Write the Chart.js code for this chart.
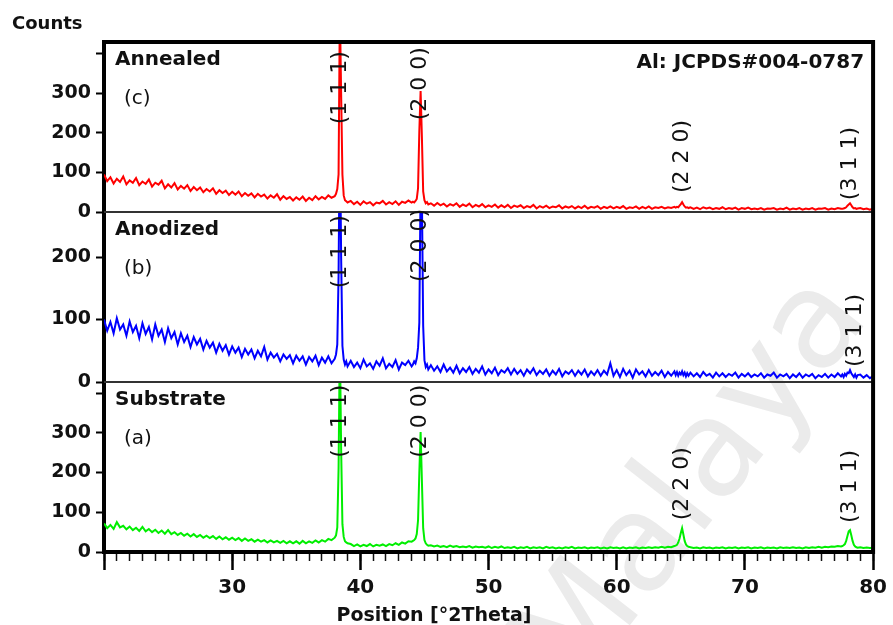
<!DOCTYPE html>
<html>
<head>
<meta charset="utf-8">
<script src="https://cdn.jsdelivr.net/npm/chart.js@4.4.1/dist/chart.umd.min.js"></script>
<style>
  html, body { margin: 0; padding: 0; background: #fff; }
  #xrd { display: block; }
</style>
</head>
<body>
<canvas id="xrd" width="893" height="625"></canvas>
<script>
// 2theta positions (deg), finer steps around the Al reflections
const twoTheta = [
  20, 20.25, 20.5, 20.75, 21, 21.25, 21.5, 21.75, 22, 22.25, 22.5, 22.75, 23, 23.25, 23.5, 23.75, 24, 24.25, 24.5, 24.75,
  25, 25.25, 25.5, 25.75, 26, 26.25, 26.5, 26.75, 27, 27.25, 27.5, 27.75, 28, 28.25, 28.5, 28.75, 29, 29.25, 29.5, 29.75,
  30, 30.25, 30.5, 30.75, 31, 31.25, 31.5, 31.75, 32, 32.25, 32.5, 32.75, 33, 33.25, 33.5, 33.75, 34, 34.25, 34.5, 34.75,
  35, 35.25, 35.5, 35.75, 36, 36.25, 36.5, 36.75, 37, 37.25, 37.5, 37.75,
  38, 38.1, 38.2, 38.3, 38.4, 38.5, 38.6, 38.7, 38.8, 38.9, 39,
  39.25, 39.5, 39.75, 40, 40.25, 40.5, 40.75, 41, 41.25, 41.5, 41.75, 42, 42.25, 42.5, 42.75, 43, 43.25, 43.5, 43.75, 44,
  44.1, 44.2, 44.3, 44.4, 44.5, 44.6, 44.7, 44.8, 44.9, 45, 45.1, 45.2, 45.3,
  45.5, 45.75, 46, 46.25, 46.5, 46.75, 47, 47.25, 47.5, 47.75, 48, 48.25, 48.5, 48.75, 49, 49.25, 49.5, 49.75,
  50, 50.25, 50.5, 50.75, 51, 51.25, 51.5, 51.75, 52, 52.25, 52.5, 52.75, 53, 53.25, 53.5, 53.75, 54, 54.25, 54.5, 54.75,
  55, 55.25, 55.5, 55.75, 56, 56.25, 56.5, 56.75, 57, 57.25, 57.5, 57.75, 58, 58.25, 58.5, 58.75, 59, 59.25, 59.5, 59.75,
  60, 60.25, 60.5, 60.75, 61, 61.25, 61.5, 61.75, 62, 62.25, 62.5, 62.75, 63, 63.25, 63.5, 63.75, 64, 64.25, 64.5,
  64.6, 64.7, 64.8, 64.9, 65, 65.1, 65.2, 65.3, 65.4, 65.5, 65.6,
  65.75, 66, 66.25, 66.5, 66.75, 67, 67.25, 67.5, 67.75, 68, 68.25, 68.5, 68.75, 69, 69.25, 69.5, 69.75,
  70, 70.25, 70.5, 70.75, 71, 71.25, 71.5, 71.75, 72, 72.25, 72.5, 72.75, 73, 73.25, 73.5, 73.75, 74, 74.25, 74.5, 74.75,
  75, 75.25, 75.5, 75.75, 76, 76.25, 76.5, 76.75, 77, 77.25, 77.5,
  77.6, 77.7, 77.8, 77.9, 78, 78.1, 78.2, 78.3, 78.4, 78.5, 78.6, 78.7, 78.8,
  79, 79.25, 79.5, 79.75, 80
];

// (c) Annealed
const annealed = [
  95, 78, 88, 72, 84, 76, 90, 70, 80, 74, 86, 68, 77, 71, 82, 64, 74, 69, 79, 60,
  70, 62, 73, 57, 66, 59, 68, 53, 63, 55, 62, 50, 58, 52, 60, 46, 55, 48, 54, 43,
  51, 44, 52, 40, 48, 41, 47, 37, 46, 39, 44, 34, 42, 36, 45, 31, 40, 33, 38, 29,
  37, 31, 39, 28, 36, 30, 40, 32, 38, 33, 42, 36,
  40, 46, 58, 95, 520, 300, 95, 42, 30, 27, 24,
  28, 20, 26, 18, 27, 21, 25, 17, 24, 22, 28, 19, 25, 20, 27, 18, 26, 23, 29, 24,
  26, 24, 28, 33, 60, 205, 306, 190, 52, 30, 22, 25, 19,
  22, 16, 23, 17, 21, 14, 20, 16, 22, 13, 19, 15, 21, 12, 18, 14, 20, 12,
  17, 13, 19, 11, 17, 12, 18, 10, 16, 13, 17, 10, 15, 12, 18, 9, 15, 11, 16, 10,
  14, 12, 17, 9, 14, 11, 15, 9, 14, 10, 16, 9, 13, 11, 15, 8, 13, 10, 14, 9,
  13, 10, 15, 8, 12, 10, 14, 8, 13, 9, 14, 8, 12, 10, 13, 9, 12, 10, 13,
  11, 13, 12, 16, 20, 25, 19, 14, 11, 12, 10,
  12, 8, 11, 7, 12, 9, 11, 7, 10, 8, 12, 7, 10, 8, 11, 6, 10,
  8, 11, 7, 9, 7, 10, 6, 9, 8, 10, 6, 9, 7, 11, 6, 9, 7, 10, 6, 9,
  7, 10, 6, 9, 8, 10, 6, 9, 7, 10, 8,
  8, 9, 10, 12, 16, 19, 22, 17, 12, 9, 10, 8, 9,
  10, 7, 9, 6, 9
];

// (b) Anodized
const anodized = [
  100, 82, 96, 78, 102, 84, 92, 74, 97, 80, 90, 70, 94, 77, 88, 68, 92, 74, 84, 64,
  86, 70, 80, 60, 78, 64, 74, 56, 72, 60, 69, 52, 66, 55, 63, 47, 61, 50, 59, 44,
  57, 47, 55, 40, 53, 44, 52, 38, 50, 41, 56, 36, 47, 39, 45, 33, 44, 37, 43, 30,
  42, 34, 41, 28, 40, 33, 42, 27, 39, 31, 41, 30,
  37, 44, 60, 170, 420, 200, 58, 36, 28, 33, 25,
  34, 24, 31, 22, 36, 25, 30, 21, 33, 26, 38, 22, 29, 24, 35, 20, 31, 27, 34, 25,
  28, 33, 30, 38, 55, 95, 320, 300, 90, 35, 24, 28, 20,
  27, 18, 25, 16, 28, 17, 23, 15, 26, 14, 22, 16, 24, 13, 21, 15, 25, 12,
  20, 14, 23, 11, 19, 15, 22, 12, 21, 13, 19, 10, 20, 14, 22, 11, 18, 13, 20, 10,
  18, 12, 21, 9, 17, 13, 19, 10, 18, 12, 20, 9, 17, 11, 19, 10, 18, 12, 30, 10,
  19, 8, 21, 11, 18, 7, 20, 12, 17, 9, 19, 10, 16, 11, 18, 8, 16, 10, 17,
  11, 16, 10, 15, 12, 17, 11, 15, 9, 14, 10,
  15, 9, 14, 8, 16, 10, 13, 7, 15, 9, 14, 8, 13, 10, 15, 7, 13,
  9, 14, 8, 12, 9, 14, 7, 12, 10, 15, 7, 12, 9, 13, 6, 12, 8, 14, 7, 12,
  9, 13, 6, 11, 8, 13, 7, 12, 8, 14, 9,
  12, 8, 13, 10, 15, 14, 19, 14, 11, 8, 12, 7, 11,
  12, 7, 11, 6, 10
];

// (a) Substrate
const substrate = [
  72, 60, 68, 58, 75, 62, 66, 57, 64, 55, 61, 53, 63, 52, 58, 50, 56, 48, 54, 46,
  55, 45, 50, 43, 48, 41, 46, 39, 45, 38, 43, 36, 41, 35, 40, 33, 39, 32, 37, 31,
  36, 30, 35, 28, 34, 28, 32, 26, 31, 26, 30, 24, 29, 24, 28, 23, 28, 22, 27, 22,
  27, 21, 28, 22, 27, 23, 29, 24, 30, 26, 33, 30,
  36, 42, 62, 210, 540, 260, 70, 38, 27, 24, 22,
  20, 15, 19, 14, 18, 15, 20, 14, 18, 16, 19, 15, 20, 17, 22, 18, 24, 21, 27, 26,
  28, 30, 34, 45, 80, 200, 302, 180, 60, 30, 22, 18, 16,
  17, 14, 16, 13, 15, 12, 16, 13, 15, 12, 14, 12, 15, 11, 14, 12, 13, 11,
  14, 10, 13, 11, 14, 10, 12, 10, 13, 9, 12, 10, 13, 9, 12, 10, 12, 9, 13, 10,
  12, 9, 11, 9, 12, 10, 13, 9, 11, 10, 12, 9, 11, 10, 12, 9, 11, 9, 12, 10,
  11, 9, 12, 9, 11, 10, 12, 9, 11, 10, 12, 10, 12, 11, 13, 11, 13, 12, 15,
  16, 18, 24, 34, 48, 60, 44, 28, 19, 15, 13,
  12, 10, 11, 9, 12, 10, 11, 9, 11, 10, 12, 9, 11, 10, 12, 9, 11,
  10, 12, 9, 11, 10, 12, 9, 11, 10, 11, 9, 12, 10, 11, 10, 12, 10, 11, 9, 12,
  10, 12, 11, 13, 11, 13, 12, 14, 13, 15, 14,
  15, 17, 20, 28, 40, 52, 55, 42, 28, 18, 14, 12, 11,
  12, 10, 11, 10, 11
];

// Miller index labels: panel axis, 2theta, count where the label starts
const millerLabels = [
  { axis: 'yC', x: 38.4, at: 222, text: '(1 1 1)' },
  { axis: 'yC', x: 44.7, at: 232, text: '(2 0 0)' },
  { axis: 'yC', x: 65.1, at: 48, text: '(2 2 0)' },
  { axis: 'yC', x: 78.2, at: 30, text: '(3 1 1)' },
  { axis: 'yB', x: 38.4, at: 150, text: '(1 1 1)' },
  { axis: 'yB', x: 44.7, at: 160, text: '(2 0 0)' },
  { axis: 'yB', x: 78.6, at: 24, text: '(3 1 1)' },
  { axis: 'yA', x: 38.4, at: 237, text: '(1 1 1)' },
  { axis: 'yA', x: 44.7, at: 237, text: '(2 0 0)' },
  { axis: 'yA', x: 65.1, at: 80, text: '(2 2 0)' },
  { axis: 'yA', x: 78.2, at: 73, text: '(3 1 1)' }
];

const panelNames = { yA: 'Substrate', yB: 'Anodized', yC: 'Annealed' };
const panelTags = { yA: '(a)', yB: '(b)', yC: '(c)' };

const FONT = '"DejaVu Sans", sans-serif';

function toPoints(vals) {
  return twoTheta.map((t, i) => ({ x: t, y: vals[i] }));
}

function panelAxis(max) {
  return {
    type: 'linear',
    position: 'left',
    stack: 'xrd',
    stackWeight: 1,
    offset: false,
    min: 0,
    max: max,
    afterFit: (s) => { s.width = 104; },
    border: { display: true, color: '#000', width: 4 },
    grid: { display: true, drawOnChartArea: false, tickLength: 8, tickWidth: 2, tickColor: '#000' },
    ticks: {
      stepSize: 100,
      includeBounds: false,
      autoSkip: false,
      padding: 5,
      color: '#111',
      font: { family: FONT, weight: 'bold', size: 19 },
      callback: (v) => (v <= 300 ? v : '')
    }
  };
}

const decor = {
  id: 'decor',
  beforeDraw(chart) {
    const ctx = chart.ctx;
    ctx.save();
    ctx.translate(695, 485);
    ctx.rotate(-52 * Math.PI / 180);
    ctx.font = '135px ' + FONT;
    ctx.fillStyle = '#ebebeb';
    ctx.textAlign = 'center';
    ctx.textBaseline = 'middle';
    ctx.fillText('Malaya', 0, 0);
    ctx.restore();
  },
  afterDatasetsDraw(chart) {
    const { ctx, chartArea: a, scales } = chart;
    ctx.save();

    // panel separators
    ctx.strokeStyle = '#333';
    ctx.lineWidth = 2;
    [scales.yB, scales.yA].forEach((s) => {
      ctx.beginPath();
      ctx.moveTo(a.left, s.top);
      ctx.lineTo(a.right, s.top);
      ctx.stroke();
    });

    // top and right frame
    ctx.strokeStyle = '#000';
    ctx.lineWidth = 4;
    ctx.beginPath();
    ctx.moveTo(a.left - 2, a.top);
    ctx.lineTo(a.right, a.top);
    ctx.lineTo(a.right, a.bottom + 2);
    ctx.stroke();

    // Miller indices
    ctx.fillStyle = '#111';
    ctx.font = '22px ' + FONT;
    ctx.textAlign = 'left';
    ctx.textBaseline = 'middle';
    millerLabels.forEach((m) => {
      const px = scales.x.getPixelForValue(m.x);
      const py = scales[m.axis].getPixelForValue(m.at);
      ctx.save();
      ctx.translate(px, py);
      ctx.rotate(-Math.PI / 2);
      ctx.fillText(m.text, 0, 0);
      ctx.restore();
    });

    // panel names
    ctx.textBaseline = 'alphabetic';
    Object.keys(panelNames).forEach((id) => {
      const s = scales[id];
      ctx.font = 'bold 20px ' + FONT;
      ctx.fillText(panelNames[id], a.left + 11, s.top + 23);
      ctx.font = '20px ' + FONT;
      ctx.fillText(panelTags[id], a.left + 20, s.top + 62);
    });

    ctx.font = 'bold 20px ' + FONT;
    ctx.textAlign = 'right';
    ctx.fillText('Al: JCPDS#004-0787', a.right - 9, a.top + 26);

    ctx.textAlign = 'left';
    ctx.font = 'bold 18px ' + FONT;
    ctx.fillText('Counts', 12, 29);

    ctx.textAlign = 'center';
    ctx.font = 'bold 19px ' + FONT;
    ctx.fillText('Position [°2Theta]', 434, 621);

    ctx.restore();
  }
};

new Chart(document.getElementById('xrd'), {
  type: 'line',
  data: {
    datasets: [
      { label: 'Substrate', data: toPoints(substrate), yAxisID: 'yA', borderColor: '#00ee00' },
      { label: 'Anodized', data: toPoints(anodized), yAxisID: 'yB', borderColor: '#0000ff' },
      { label: 'Annealed', data: toPoints(annealed), yAxisID: 'yC', borderColor: '#ff0000' }
    ]
  },
  options: {
    responsive: false,
    animation: false,
    layout: { padding: { top: 42, right: 17, left: 0, bottom: 0 } },
    elements: {
      point: { radius: 0 },
      line: { borderWidth: 2, tension: 0 }
    },
    plugins: {
      legend: { display: false },
      tooltip: { enabled: false }
    },
    scales: {
      xMinor: {
        type: 'linear',
        position: 'bottom',
        min: 20,
        max: 80,
        afterFit: (s) => { s.height = 0; },
        border: { display: false },
        grid: { display: true, drawOnChartArea: false, tickLength: 9, tickWidth: 1.5, tickColor: '#111' },
        ticks: { display: false, stepSize: 1, autoSkip: false }
      },
      x: {
        type: 'linear',
        position: 'bottom',
        min: 20,
        max: 80,
        afterFit: (s) => { s.height = 73; },
        border: { display: true, color: '#000', width: 4 },
        grid: { display: true, drawOnChartArea: false, tickLength: 18, tickWidth: 2.5, tickColor: '#000' },
        ticks: {
          stepSize: 10,
          padding: 6,
          maxRotation: 0,
          color: '#111',
          font: { family: FONT, weight: 'bold', size: 20 },
          callback: (v) => (v === 20 ? '' : v)
        }
      },
      yA: panelAxis(428),
      yB: panelAxis(272),
      yC: panelAxis(430)
    }
  },
  plugins: [decor]
});
</script>
</body>
</html>
